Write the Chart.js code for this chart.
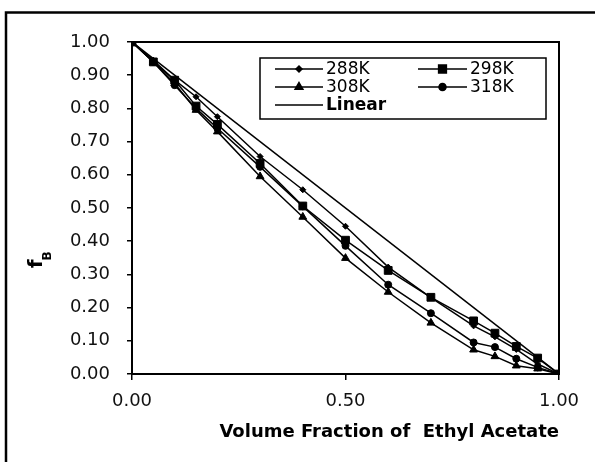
<!DOCTYPE html>
<html>
<head>
<meta charset="utf-8">
<script src="https://cdn.jsdelivr.net/npm/chart.js@4/dist/chart.umd.min.js"></script>
<style>
  html, body { margin: 0; padding: 0; background: #fff; }
  canvas { display: block; }
</style>
</head>
<body>
<canvas id="fb-chart" width="595" height="462"></canvas>
<script>
// volume fraction of ethyl acetate (x) and f_B at each temperature
const volumeFraction = [0, 0.05, 0.10, 0.15, 0.20, 0.30, 0.40, 0.50, 0.60, 0.70, 0.80, 0.85, 0.90, 0.95, 1.00];
const fB288 = [1.00, 0.945, 0.885, 0.835, 0.775, 0.655, 0.555, 0.445, 0.322, 0.230, 0.145, 0.112, 0.074, 0.030, 0.00];
const fB298 = [1.00, 0.940, 0.885, 0.807, 0.752, 0.634, 0.506, 0.403, 0.312, 0.231, 0.160, 0.123, 0.083, 0.048, 0.00];
const fB308 = [1.00, 0.940, 0.875, 0.795, 0.730, 0.595, 0.473, 0.349, 0.247, 0.154, 0.073, 0.053, 0.025, 0.016, 0.00];
const fB318 = [1.00, 0.940, 0.870, 0.800, 0.740, 0.624, 0.505, 0.386, 0.269, 0.183, 0.095, 0.081, 0.046, 0.020, 0.00];
const linearX = [0, 1];
const linearY = [1, 0];
const seriesLabels = ['288K', '298K', '308K', '318K', 'Linear'];
const xTicks = [0, 0.5, 1];
const yTicks = [0, 0.1, 0.2, 0.3, 0.4, 0.5, 0.6, 0.7, 0.8, 0.9, 1.0];

const FONT = '"DejaVu Sans", "Liberation Sans", Arial, sans-serif';

function points(xs, ys) {
    return xs.map(function(x, i) { return { x: x, y: ys[i] }; });
}

function series(label, data, style, radius) {
    return {
        label: label,
        data: data,
        borderColor: '#000',
        backgroundColor: '#000',
        borderWidth: 1.5,
        pointStyle: style,
        pointRadius: radius,
        pointBorderWidth: 1,
        pointBorderColor: '#000',
        pointBackgroundColor: '#000',
        tension: 0
    };
}

// outer frame lines + box round the plot area
const framePlugin = {
    id: 'frame',
    beforeDraw: function(chart) {
        const ctx = chart.ctx;
        ctx.save();
        ctx.fillStyle = '#fff';
        ctx.fillRect(0, 0, chart.width, chart.height);
        ctx.strokeStyle = '#000';
        ctx.lineWidth = 2.5;
        ctx.beginPath();
        ctx.moveTo(6, chart.height);
        ctx.lineTo(6, 12.5);
        ctx.lineTo(chart.width, 12.5);
        ctx.stroke();
        ctx.restore();
    },
    afterDraw: function(chart) {
        const a = chart.chartArea;
        const ctx = chart.ctx;
        ctx.save();
        ctx.strokeStyle = '#000';
        ctx.lineWidth = 2;
        ctx.strokeRect(a.left, a.top, a.right - a.left, a.bottom - a.top);

        // y title: f with subscript B
        ctx.translate(42, 262);
        ctx.rotate(-Math.PI / 2);
        ctx.fillStyle = '#000';
        ctx.textBaseline = 'alphabetic';
        ctx.textAlign = 'left';
        ctx.font = 'bold 20px ' + FONT;
        ctx.fillText('f', -6, 0);
        ctx.font = 'bold 12px ' + FONT;
        ctx.fillText('B', 1.5, 9);
        ctx.restore();
    }
};

// legend drawn as a boxed 2-column table inside the plot
const boxLegendPlugin = {
    id: 'boxLegend',
    afterDraw: function(chart) {
        const ctx = chart.ctx;
        const rows = [69, 87, 105];
        const cols = [{ x0: 275, x1: 323 }, { x0: 418, x1: 467 }];
        ctx.save();
        ctx.strokeStyle = '#000';
        ctx.lineWidth = 1.5;
        ctx.strokeRect(260, 58, 286, 61);

        chart.data.datasets.forEach(function(ds, i) {
            const col = cols[i < 4 ? i % 2 : 0];
            const y = rows[i < 4 ? Math.floor(i / 2) : 2];
            ctx.strokeStyle = '#000';
            ctx.lineWidth = 1.5;
            ctx.beginPath();
            ctx.moveTo(col.x0, y);
            ctx.lineTo(col.x1, y);
            ctx.stroke();
            if (ds.pointRadius > 0) {
                Chart.helpers.drawPoint(ctx, {
                    pointStyle: ds.pointStyle,
                    radius: ds.pointRadius,
                    borderWidth: 1,
                    rotation: 0
                }, (col.x0 + col.x1) / 2, y);
                ctx.fill();
            }
            ctx.fillStyle = '#000';
            ctx.font = (i === 4 ? 'bold ' : '') + '17px ' + FONT;
            ctx.textBaseline = 'middle';
            ctx.textAlign = 'left';
            ctx.fillText(ds.label, col.x1 + 3, y + 1);
        });
        ctx.restore();
    }
};

const chart = new Chart(document.getElementById('fb-chart'), {
    type: 'line',
    data: {
        datasets: [
            series(seriesLabels[0], points(volumeFraction, fB288), 'rectRot', 3),
            series(seriesLabels[1], points(volumeFraction, fB298), 'rect', 5.5),
            series(seriesLabels[2], points(volumeFraction, fB308), 'triangle', 4.5),
            series(seriesLabels[3], points(volumeFraction, fB318), 'circle', 3.5),
            series(seriesLabels[4], points(linearX, linearY), 'circle', 0)
        ]
    },
    options: {
        responsive: false,
        animation: false,
        layout: { padding: { left: 0, top: 42, right: 36, bottom: 0 } },
        plugins: {
            legend: { display: false },
            tooltip: { enabled: false }
        },
        scales: {
            x: {
                type: 'linear',
                min: 0,
                max: 1,
                afterBuildTicks: function(scale) {
                    scale.ticks = xTicks.map(function(v) { return { value: v }; });
                },
                afterFit: function(scale) { scale.height = 88; },
                ticks: {
                    color: '#111',
                    padding: 11,
                    maxRotation: 0,
                    font: { family: FONT, size: 18 },
                    callback: function(v) { return Number(v).toFixed(2); }
                },
                grid: {
                    drawOnChartArea: false,
                    tickLength: 6,
                    color: '#000',
                    lineWidth: 1.5
                },
                border: { color: '#000', width: 2 },
                title: {
                    display: true,
                    text: 'Volume Fraction of  Ethyl Acetate',
                    align: 'end',
                    color: '#000',
                    font: { family: FONT, size: 18, weight: 'bold' },
                    padding: { top: 0, bottom: 19 }
                }
            },
            y: {
                type: 'linear',
                min: 0,
                max: 1,
                afterBuildTicks: function(scale) {
                    scale.ticks = yTicks.map(function(v) { return { value: v }; });
                },
                afterFit: function(scale) { scale.width = 132; },
                ticks: {
                    color: '#111',
                    padding: 17,
                    font: { family: FONT, size: 18 },
                    callback: function(v) { return Number(v).toFixed(2); }
                },
                grid: {
                    drawOnChartArea: false,
                    tickLength: 5,
                    color: '#000',
                    lineWidth: 1.5
                },
                border: { color: '#000', width: 2 }
            }
        }
    },
    plugins: [framePlugin, boxLegendPlugin]
});
</script>
</body>
</html>
